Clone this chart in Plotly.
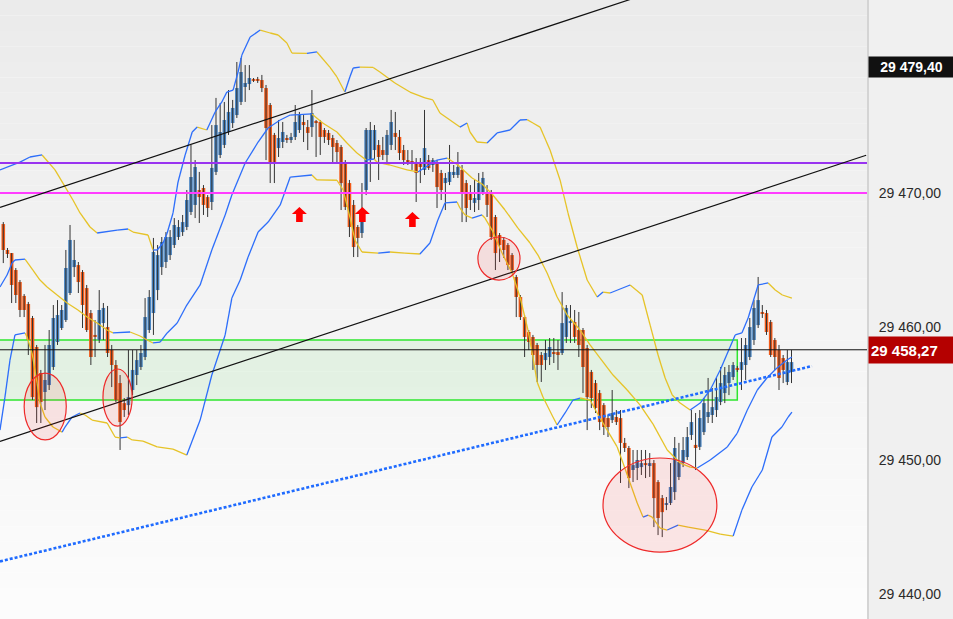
import plotly.graph_objects as go

# ---------------- data (prices) ----------------
OPEN = [29467.68, 29465.74, 29465.51, 29464.24, 29463.34, 29462.30, 29461.70, 29460.65, 29458.48, 29456.53,
        29455.11, 29455.63, 29456.98, 29458.85, 29459.90, 29460.50, 29462.52, 29464.46, 29464.61, 29464.09,
        29462.89, 29461.02, 29459.38, 29459.00, 29460.27, 29459.97, 29458.25, 29457.13, 29455.78, 29454.28,
        29454.13, 29455.26, 29456.38, 29456.98, 29457.73, 29459.75, 29461.02, 29462.74, 29464.46, 29464.84,
        29465.36, 29466.11, 29466.71, 29467.08, 29467.46, 29468.58, 29469.11, 29470.23, 29470.38, 29469.70,
        29469.33, 29471.58, 29472.85, 29473.60, 29474.57, 29475.24, 29475.84, 29476.82, 29477.94, 29478.16,
        29478.54, 29478.54, 29478.46, 29477.86, 29476.59, 29474.35, 29473.37, 29473.82, 29474.12, 29473.97,
        29474.20, 29474.72, 29475.32, 29474.94, 29474.94, 29475.39, 29475.32, 29474.72, 29474.50, 29474.12,
        29473.75, 29473.45, 29472.25, 29470.75, 29469.11, 29467.46, 29467.01, 29470.23, 29472.47, 29473.22,
        29473.60, 29473.22, 29472.85, 29473.60, 29474.50, 29474.20, 29473.22, 29472.47, 29472.40, 29472.32,
        29472.25, 29471.73, 29472.47, 29472.10, 29472.25, 29471.50, 29470.75, 29470.83, 29471.35, 29471.35,
        29471.73, 29470.75, 29470.08, 29469.26, 29469.48, 29470.08, 29470.08, 29470.00, 29468.21, 29466.86,
        29466.49, 29466.11, 29465.36, 29463.72, 29462.22, 29460.72, 29459.60, 29459.23, 29458.63, 29457.88,
        29457.50, 29457.73, 29458.10, 29458.10, 29458.03, 29459.23, 29460.27, 29460.35, 29459.75, 29459.75,
        29458.40, 29456.61, 29455.78, 29455.03, 29454.13, 29453.16, 29453.01, 29453.24, 29453.16, 29451.30,
        29450.92, 29449.27, 29449.42, 29449.49, 29449.79, 29449.57, 29449.79, 29448.37, 29447.17, 29446.65,
        29446.80, 29447.62, 29448.75, 29449.79, 29450.24, 29451.89, 29451.15, 29451.00, 29452.11, 29453.24,
        29453.39, 29453.76, 29454.36, 29455.03, 29455.78, 29456.23, 29456.83, 29456.76, 29457.13, 29457.73,
        29459.00, 29460.12, 29461.10, 29461.02, 29460.35, 29459.00, 29458.25, 29457.65, 29455.86, 29456.61]
HIGH = [29467.83, 29465.89, 29465.51, 29464.39, 29463.49, 29462.44, 29461.85, 29460.80, 29458.63, 29456.76,
        29458.63, 29459.75, 29461.62, 29461.99, 29461.62, 29465.74, 29467.61, 29466.49, 29464.84, 29464.24,
        29463.12, 29461.25, 29460.50, 29462.74, 29461.77, 29461.55, 29458.63, 29457.50, 29456.38, 29454.66,
        29458.25, 29458.25, 29458.25, 29458.63, 29462.14, 29462.74, 29466.64, 29466.11, 29466.71, 29467.08,
        29467.23, 29468.13, 29467.98, 29468.36, 29470.23, 29473.60, 29472.47, 29471.58, 29470.60, 29469.85,
        29475.09, 29477.12, 29476.74, 29476.82, 29477.71, 29476.97, 29479.81, 29480.11, 29479.58, 29479.58,
        29478.61, 29478.69, 29478.84, 29478.09, 29476.74, 29474.50, 29475.47, 29475.32, 29474.35, 29474.50,
        29476.59, 29476.07, 29475.84, 29475.47, 29477.71, 29475.47, 29475.47, 29474.87, 29474.72, 29474.35,
        29473.97, 29473.60, 29472.47, 29470.98, 29469.48, 29467.61, 29470.75, 29474.87, 29475.32, 29475.09,
        29473.97, 29474.20, 29474.72, 29476.22, 29476.07, 29474.72, 29473.60, 29473.22, 29473.22, 29472.62,
        29472.62, 29476.22, 29472.85, 29472.62, 29472.47, 29471.73, 29471.50, 29473.60, 29472.10, 29473.07,
        29472.10, 29470.98, 29470.60, 29470.98, 29471.50, 29471.58, 29470.60, 29470.23, 29468.36, 29467.01,
        29466.71, 29466.26, 29465.51, 29463.87, 29462.37, 29460.87, 29459.75, 29459.38, 29458.78, 29458.10,
        29459.00, 29459.15, 29459.15, 29459.00, 29462.59, 29461.62, 29461.62, 29461.25, 29461.10, 29459.90,
        29458.63, 29456.76, 29456.01, 29455.26, 29454.28, 29453.39, 29455.26, 29453.76, 29453.76, 29451.67,
        29451.07, 29450.77, 29450.77, 29450.77, 29450.77, 29450.54, 29450.02, 29448.52, 29447.40, 29447.25,
        29449.79, 29451.74, 29451.30, 29451.74, 29452.49, 29453.76, 29453.54, 29453.76, 29454.66, 29456.16,
        29455.41, 29456.16, 29456.98, 29456.98, 29457.13, 29457.35, 29457.06, 29459.15, 29459.15, 29460.65,
        29461.99, 29463.72, 29461.62, 29461.25, 29460.50, 29459.15, 29458.63, 29457.88, 29458.25, 29458.25]
LOW = [29464.76, 29465.14, 29461.77, 29461.77, 29460.72, 29460.72, 29457.88, 29454.51, 29452.79, 29452.79,
       29453.76, 29455.26, 29456.76, 29458.63, 29459.75, 29460.35, 29462.37, 29463.72, 29462.52, 29459.90,
       29459.60, 29457.13, 29457.73, 29458.78, 29459.00, 29457.73, 29455.48, 29454.36, 29450.77, 29453.24,
       29453.39, 29454.88, 29455.63, 29456.76, 29457.50, 29459.53, 29459.38, 29461.99, 29463.87, 29464.39,
       29464.99, 29465.89, 29466.49, 29466.79, 29467.23, 29468.36, 29468.13, 29467.76, 29468.36, 29468.21,
       29468.73, 29471.35, 29472.62, 29473.37, 29474.35, 29474.87, 29475.62, 29476.59, 29476.82, 29477.71,
       29478.31, 29478.24, 29477.56, 29472.47, 29470.75, 29470.75, 29472.70, 29473.37, 29473.75, 29473.75,
       29473.97, 29474.50, 29473.82, 29473.22, 29474.20, 29472.70, 29472.85, 29473.75, 29473.60, 29472.32,
       29472.32, 29468.73, 29468.73, 29466.71, 29465.21, 29465.21, 29466.64, 29469.85, 29470.83, 29472.47,
       29470.98, 29472.47, 29472.10, 29473.22, 29473.22, 29472.47, 29472.10, 29472.10, 29471.73, 29469.33,
       29470.75, 29471.35, 29471.73, 29471.58, 29468.88, 29469.48, 29468.73, 29470.60, 29471.13, 29471.13,
       29467.83, 29467.83, 29468.73, 29468.58, 29468.73, 29469.85, 29468.21, 29466.49, 29464.24, 29464.84,
       29465.14, 29464.24, 29464.09, 29460.72, 29460.50, 29457.73, 29458.25, 29456.76, 29455.86, 29455.86,
       29456.76, 29457.13, 29457.28, 29456.76, 29457.88, 29458.78, 29458.78, 29458.78, 29457.73, 29455.03,
       29452.26, 29453.91, 29453.54, 29452.26, 29451.89, 29451.74, 29452.79, 29452.64, 29448.30, 29450.62,
       29447.92, 29448.37, 29448.52, 29448.90, 29448.67, 29448.75, 29445.00, 29444.40, 29444.25, 29446.27,
       29446.65, 29447.03, 29448.52, 29449.49, 29450.02, 29451.52, 29449.27, 29450.77, 29451.89, 29452.79,
       29452.79, 29453.24, 29454.13, 29454.28, 29454.88, 29456.01, 29456.61, 29455.26, 29456.01, 29457.50,
       29458.63, 29459.90, 29460.65, 29459.38, 29457.73, 29456.76, 29455.26, 29455.78, 29455.63, 29455.78]
CLOSE = [29465.74, 29465.44, 29463.12, 29462.37, 29461.25, 29461.25, 29459.00, 29454.73, 29453.98, 29454.36,
         29456.01, 29458.63, 29460.65, 29460.87, 29461.25, 29464.39, 29466.49, 29464.99, 29463.34, 29461.62,
         29459.75, 29457.73, 29459.23, 29461.25, 29461.40, 29458.03, 29457.13, 29454.51, 29452.86, 29453.76,
         29454.73, 29456.76, 29457.50, 29458.03, 29460.72, 29462.22, 29465.59, 29465.36, 29466.34, 29466.71,
         29466.71, 29467.61, 29467.46, 29467.83, 29469.48, 29471.20, 29471.95, 29469.70, 29469.11, 29468.88,
         29471.88, 29475.09, 29474.57, 29475.47, 29476.07, 29476.37, 29477.86, 29479.06, 29478.24, 29478.61,
         29478.39, 29478.39, 29477.86, 29474.87, 29472.25, 29472.32, 29474.12, 29474.57, 29473.97, 29474.20,
         29475.32, 29475.84, 29475.09, 29474.50, 29475.99, 29475.24, 29474.20, 29474.20, 29473.97, 29473.45,
         29473.07, 29470.75, 29468.96, 29467.46, 29465.96, 29466.64, 29468.36, 29474.72, 29474.72, 29474.72,
         29472.70, 29472.85, 29474.35, 29475.32, 29474.20, 29473.00, 29472.47, 29472.25, 29472.25, 29471.50,
         29471.95, 29473.37, 29471.88, 29472.47, 29470.45, 29470.23, 29471.13, 29471.58, 29471.58, 29471.95,
         29470.00, 29468.88, 29469.48, 29469.63, 29470.75, 29471.13, 29469.11, 29466.71, 29465.51, 29466.11,
         29465.74, 29464.61, 29464.24, 29462.22, 29460.72, 29459.23, 29458.85, 29457.88, 29457.13, 29457.13,
         29458.03, 29458.48, 29457.95, 29457.88, 29460.27, 29461.40, 29460.42, 29459.23, 29458.63, 29456.98,
         29454.73, 29454.66, 29453.91, 29452.86, 29452.49, 29452.49, 29453.54, 29452.86, 29451.30, 29450.92,
         29448.67, 29449.64, 29450.02, 29449.79, 29449.64, 29449.79, 29447.17, 29445.68, 29446.12, 29446.80,
         29448.00, 29450.92, 29449.87, 29450.77, 29451.74, 29452.86, 29450.92, 29453.16, 29454.28, 29453.61,
         29453.98, 29454.73, 29455.78, 29456.38, 29456.61, 29457.13, 29456.83, 29457.35, 29458.63, 29459.97,
         29461.40, 29461.99, 29460.95, 29459.60, 29457.88, 29457.73, 29456.16, 29456.76, 29457.35, 29457.35]

# envelope lines (candle index, price)
UPPER_X = [-0.8, 4.0, 6.4, 9.3, 12.4, 16.7, 18.4, 20.8, 22.5, 27.3, 29.9, 31.1, 34.7, 35.9, 36.9, 38.3, 39.3,
           40.7, 41.9, 43.6, 45.3, 46.5, 48.8, 50.8, 52.4, 53.6, 55.1, 56.3, 57.2, 59.2, 61.6, 64.0, 65.9, 68.0,
           69.2, 72.8, 75.2, 78.3, 80.0, 81.9, 83.1, 83.9, 85.5, 88.7, 90.3, 93.9, 97.5, 101.1, 103.0, 104.7,
           107.1, 109.5, 111.2, 111.9, 113.6, 116.0, 118.4, 121.5, 123.9, 125.6, 127.0, 128.7, 131.1, 133.5,
           135.4, 137.6, 140.0, 142.4, 143.8, 145.5, 150.3, 153.2, 155.1, 157.0, 158.7, 160.4, 162.3, 164.7,
           167.1, 169.5, 171.9, 175.5, 177.1, 178.6, 181.0, 183.4, 185.1, 186.8, 189.1]
UPPER_Y = [29471.73, 29472.32, 29472.70, 29472.85, 29471.73, 29469.48, 29468.51, 29467.46, 29467.01, 29467.23,
           29467.31, 29467.08, 29466.86, 29465.74, 29465.74, 29466.26, 29467.01, 29468.51, 29470.83, 29472.85,
           29474.57, 29474.94, 29474.72, 29476.07, 29476.82, 29477.56, 29477.71, 29479.06, 29480.33, 29481.68,
           29482.20, 29481.98, 29481.83, 29481.23, 29480.48, 29480.45, 29480.56, 29479.43, 29478.69, 29477.56,
           29478.69, 29479.36, 29479.43, 29479.40, 29479.06, 29478.24, 29477.56, 29477.12, 29476.97, 29475.99,
           29475.47, 29474.94, 29475.24, 29474.57, 29473.82, 29473.75, 29474.50, 29474.72, 29475.47, 29475.50,
           29475.24, 29474.94, 29473.22, 29470.98, 29468.51, 29465.96, 29463.49, 29462.22, 29462.59, 29462.52,
           29463.12, 29462.37, 29460.12, 29457.88, 29456.16, 29454.88, 29454.28, 29453.76, 29454.28, 29455.26,
           29456.76, 29459.38, 29459.53, 29460.65, 29463.12, 29463.27, 29462.74, 29462.37, 29462.14]
MID_X = [-0.8, 0.9, 2.1, 2.8, 5.2, 7.1, 8.8, 10.5, 12.9, 15.3, 17.9, 20.1, 22.5, 24.9, 26.3, 30.4, 32.8, 34.5,
         35.9, 37.6, 39.3, 41.7, 44.0, 47.2, 50.0, 53.2, 54.8, 58.0, 61.1, 63.5, 66.4, 68.8, 74.0, 76.6, 80.0,
         82.4, 84.8, 87.0, 88.9, 89.6, 92.7, 96.8, 99.4, 104.0, 106.4, 109.0, 112.4, 114.8, 117.2, 120.3, 123.4,
         126.3, 128.2, 130.4, 132.8, 135.2, 138.3, 140.7, 143.1, 146.2, 149.6, 152.7, 155.8, 159.2, 162.3, 164.7,
         166.4, 169.5, 173.6, 176.0, 178.4, 180.8, 183.1, 185.5, 187.9, 189.1]
MID_Y = [29462.97, 29463.87, 29464.76, 29464.99, 29465.06, 29464.24, 29463.49, 29462.97, 29462.37, 29461.77,
         29461.25, 29460.72, 29460.27, 29459.75, 29459.53, 29459.60, 29459.30, 29459.00, 29458.78, 29458.85,
         29459.53, 29460.27, 29461.62, 29463.12, 29465.74, 29468.36, 29469.85, 29472.25, 29473.82, 29474.87,
         29475.47, 29475.84, 29475.92, 29475.24, 29474.57, 29473.75, 29473.00, 29472.47, 29472.55, 29472.32,
         29472.10, 29471.73, 29471.58, 29472.47, 29472.62, 29472.10, 29471.13, 29470.68, 29469.93, 29468.73,
         29467.38, 29466.26, 29465.36, 29464.02, 29462.22, 29460.87, 29459.75, 29458.63, 29457.65, 29456.38,
         29455.26, 29454.13, 29452.71, 29450.77, 29449.79, 29449.49, 29449.42, 29450.02, 29451.00, 29452.04,
         29453.76, 29455.26, 29456.16, 29456.91, 29457.50, 29457.73]
LOWER_X = [-0.8, 0.4, 1.6, 2.8, 5.2, 5.7, 6.9, 8.1, 8.8, 10.0, 11.9, 14.1, 14.8, 16.5, 18.4, 19.6, 21.3, 24.9,
           26.8, 28.0, 29.7, 30.9, 33.5, 36.9, 40.7, 44.0, 47.2, 50.0, 53.2, 54.8, 56.8, 58.7, 61.1, 63.5, 66.4,
           68.8, 74.0, 75.2, 80.0, 81.5, 83.1, 84.3, 86.0, 89.9, 92.7, 96.3, 99.9, 102.3, 104.2, 105.9, 108.8,
           109.5, 110.7, 112.4, 114.8, 115.5, 117.2, 119.6, 122.0, 123.9, 125.8, 127.0, 128.0, 129.4, 131.8,
           132.8, 134.7, 136.6, 138.3, 140.7, 142.4, 144.8, 147.2, 148.6, 150.3, 152.0, 153.4, 154.6, 155.6,
           157.5, 159.2, 161.8, 164.2, 168.3, 171.9, 175.0, 177.1, 179.5, 182.0, 184.3, 186.7, 188.2, 189.1]
LOWER_Y = [29452.26, 29454.73, 29457.50, 29459.38, 29459.53, 29459.23, 29458.03, 29455.78, 29454.28, 29453.24,
           29452.49, 29452.11, 29452.49, 29453.24, 29453.54, 29453.39, 29453.01, 29452.79, 29451.74, 29451.67,
           29451.74, 29451.52, 29451.44, 29451.00, 29450.84, 29450.39, 29453.01, 29456.38, 29459.38, 29462.14,
           29463.49, 29465.21, 29467.08, 29467.83, 29469.11, 29471.20, 29471.35, 29470.98, 29470.96, 29470.23,
           29468.21, 29466.49, 29465.59, 29465.51, 29465.59, 29465.51, 29465.44, 29466.26, 29467.98, 29469.26,
           29469.33, 29468.88, 29468.36, 29468.13, 29468.36, 29468.13, 29467.23, 29465.51, 29464.02, 29462.22,
           29459.75, 29457.73, 29455.86, 29454.73, 29453.24, 29452.64, 29453.54, 29454.51, 29454.66, 29454.51,
           29453.54, 29452.26, 29451.00, 29449.79, 29448.30, 29446.80, 29445.75, 29445.90, 29445.75, 29444.93,
           29444.78, 29445.15, 29445.00, 29444.78, 29444.48, 29444.33, 29446.27, 29448.00, 29449.27, 29451.74,
           29452.49, 29453.24, 29453.61]

PURPLE_LEVEL = 29472.25
MAGENTA_LEVEL = 29470.00
LAST_PRICE = 29458.27
HIGH_MARK = 29479.40
ZONE_TOP = 29459.00
ZONE_BOTTOM = 29454.51
ZONE_END = 176

CHANNEL_UP_X = [-0.79, 206.9]
CHANNEL_UP_Y = [29468.93, 29490.32]
CHANNEL_LO_X = [-0.79, 206.9]
CHANNEL_LO_Y = [29451.41, 29472.83]
DOTTED_X = [-0.79, 193.9]
DOTTED_Y = [29442.43, 29457.05]

ELL_X0 = [5.0, 23.9, 113.8, 143.8]
ELL_X1 = [15.1, 30.9, 123.9, 171.1]
ELL_Y0 = [29451.52, 29452.56, 29463.49, 29443.13]
ELL_Y1 = [29456.53, 29456.83, 29466.71, 29450.17]

ARROW_X = [71.0, 86.1, 98.1]
ARROW_TIP = [29468.96, 29468.96, 29468.58]

Y_TICKS = [29440, 29450, 29460, 29470]
Y_TICK_TEXT = ["29 440,00", "29 450,00", "29 460,00", "29 470,00"]

# ---------------- layout constants ----------------
W, H = 953, 619
MARGIN_R = 86
PLOT_W, PLOT_H = W - MARGIN_R, H
X_RANGE = [-0.79, 207.1]
Y_RANGE = [29438.12, 29484.45]

BLUE_BODY = "#4682c0"
ORANGE_BODY = "#f25a18"
BAND_UP = "#2d6efa"
BAND_DOWN = "#e6c328"

fig = go.Figure()

# wicks
wx, wy = [], []
for i, (h, l) in enumerate(zip(HIGH, LOW)):
    wx += [i, i, None]
    wy += [l, h, None]
fig.add_trace(go.Scatter(x=wx, y=wy, mode="lines", line=dict(color="#333333", width=1),
                         hoverinfo="skip", showlegend=False))

# bodies
idx = list(range(len(OPEN)))
base = [min(o, c) for o, c in zip(OPEN, CLOSE)]
hgt = [max(abs(c - o), 0.08) for o, c in zip(OPEN, CLOSE)]
cols = [BLUE_BODY if c > o else ORANGE_BODY for o, c in zip(OPEN, CLOSE)]
fig.add_trace(go.Bar(x=idx, y=hgt, base=base, width=0.86, marker=dict(color=cols, line=dict(width=0)),
                     hoverinfo="skip", showlegend=False))


# slope-coloured envelope lines
def add_band(xs, ys):
    ux, uy, dx, dy = [], [], [], []
    for k in range(len(xs) - 1):
        seg_x = [xs[k], xs[k + 1], None]
        seg_y = [ys[k], ys[k + 1], None]
        if ys[k + 1] >= ys[k]:
            ux += seg_x
            uy += seg_y
        else:
            dx += seg_x
            dy += seg_y
    fig.add_trace(go.Scatter(x=dx, y=dy, mode="lines", line=dict(color=BAND_DOWN, width=1.3),
                             hoverinfo="skip", showlegend=False))
    fig.add_trace(go.Scatter(x=ux, y=uy, mode="lines", line=dict(color=BAND_UP, width=1.3),
                             hoverinfo="skip", showlegend=False))


add_band(UPPER_X, UPPER_Y)
add_band(MID_X, MID_Y)
add_band(LOWER_X, LOWER_Y)

# horizontal levels
for lvl, col in [(PURPLE_LEVEL, "#9933f0"), (MAGENTA_LEVEL, "#ff3cff")]:
    fig.add_trace(go.Scatter(x=X_RANGE, y=[lvl, lvl], mode="lines", line=dict(color=col, width=2),
                             hoverinfo="skip", showlegend=False))

# channel lines
for cx, cy in [(CHANNEL_UP_X, CHANNEL_UP_Y), (CHANNEL_LO_X, CHANNEL_LO_Y)]:
    fig.add_trace(go.Scatter(x=cx, y=cy, mode="lines", line=dict(color="#111111", width=1.2),
                             hoverinfo="skip", showlegend=False))

# dotted support line
fig.add_trace(go.Scatter(x=DOTTED_X, y=DOTTED_Y, mode="lines",
                         line=dict(color="#1f6bff", width=2.6, dash="3px,2px"),
                         hoverinfo="skip", showlegend=False))

shapes = []
# background gradient
N = 40
for k in range(N):
    t = k / (N - 1)
    g = int(round(252 - (252 - 235) * t))
    shapes.append(dict(type="rect", xref="paper", yref="paper", x0=0, x1=1,
                       y0=k / N, y1=(k + 1) / N, line=dict(width=0),
                       fillcolor=f"rgb({g},{g},{g})", layer="below"))
# green zone
shapes.append(dict(type="rect", xref="x", yref="y", x0=X_RANGE[0] - 2, x1=ZONE_END,
                   y0=ZONE_BOTTOM, y1=ZONE_TOP, line=dict(color="#2ee62e", width=1.5),
                   fillcolor="rgba(60,210,60,0.09)", layer="below"))
# last price line
shapes.append(dict(type="line", xref="paper", yref="y", x0=0, x1=1, y0=LAST_PRICE, y1=LAST_PRICE,
                   line=dict(color="#111111", width=1), layer="above"))
# ellipses
for x0, x1, y0, y1 in zip(ELL_X0, ELL_X1, ELL_Y0, ELL_Y1):
    shapes.append(dict(type="circle", xref="x", yref="y", x0=x0, x1=x1, y0=y0, y1=y1,
                       line=dict(color="#ee2a2a", width=1.2), fillcolor="rgba(255,40,40,0.10)",
                       layer="above"))
# arrows
px_x = (X_RANGE[1] - X_RANGE[0]) / PLOT_W
px_y = (Y_RANGE[1] - Y_RANGE[0]) / PLOT_H
arrow_pts = [(0, 0), (7.5, 7), (3.3, 7), (3.3, 15), (-3.3, 15), (-3.3, 7), (-7.5, 7)]
for ax_, at in zip(ARROW_X, ARROW_TIP):
    path = "M " + " L ".join(f"{ax_ + dx * px_x:.4f},{at - dy * px_y:.4f}" for dx, dy in arrow_pts) + " Z"
    shapes.append(dict(type="path", xref="x", yref="y", path=path, fillcolor="#ff0000",
                       line=dict(width=0), layer="above"))

annotations = [
    dict(xref="paper", yref="y", x=1, y=HIGH_MARK, xanchor="left", yanchor="middle", xshift=1,
         text="<b>29 479,40</b>", showarrow=False, bgcolor="#111111", width=85, height=20,
         align="center", borderpad=0,
         font=dict(color="white", size=14, family="Liberation Sans, Arial, sans-serif")),
    dict(xref="paper", yref="y", x=1, y=LAST_PRICE, xanchor="left", yanchor="middle", xshift=1,
         text="<b>29 458,27</b>", showarrow=False, bgcolor="#b40000", width=81, height=22,
         align="left", borderpad=2,
         font=dict(color="white", size=15, family="Liberation Sans, Arial, sans-serif")),
]

fig.update_layout(
    width=W, height=H,
    margin=dict(l=0, r=MARGIN_R, t=0, b=0),
    paper_bgcolor="#f0f0f0", plot_bgcolor="#ffffff",
    showlegend=False, shapes=shapes, annotations=annotations,
    xaxis=dict(range=X_RANGE, visible=False, showgrid=False, zeroline=False, fixedrange=True),
    yaxis=dict(range=Y_RANGE, side="right", showgrid=False, zeroline=False,
               tickvals=Y_TICKS, ticktext=Y_TICK_TEXT, ticks="outside", ticklen=7,
               tickcolor="rgba(0,0,0,0)", showline=True, linecolor="#d4d4d4", linewidth=2,
               tickfont=dict(size=14, color="#2a2a2a", family="Liberation Sans, Arial, sans-serif"),
               fixedrange=True),
    hovermode=False,
)

fig.write_html("out.html", config={"displayModeBar": False},
               post_script="document.body.style.margin='0';document.body.style.padding='0';"
                           "document.documentElement.style.overflow='hidden';")
